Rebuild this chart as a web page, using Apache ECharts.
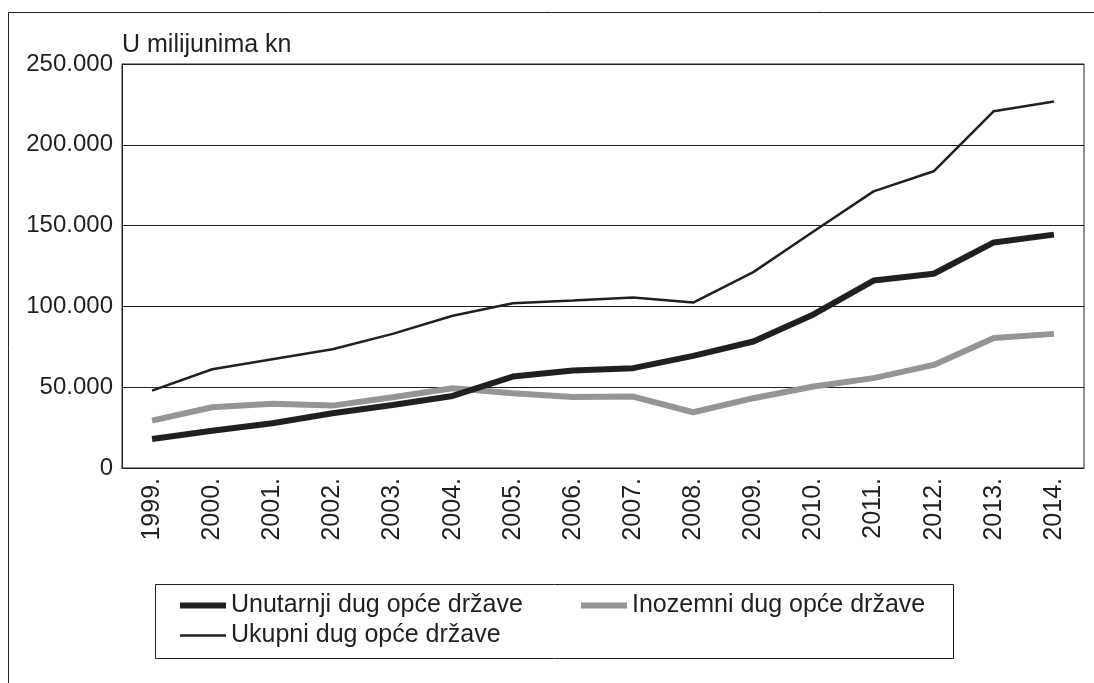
<!DOCTYPE html>
<html>
<head>
<meta charset="utf-8">
<script src="https://cdn.jsdelivr.net/npm/echarts@6/dist/echarts.min.js"></script>
<style>html,body{margin:0;padding:0;background:#fff}#c{width:1094px;height:683px}</style>
</head>
<body>
<div id="c"></div>
<script>
const years = ['1999.','2000.','2001.','2002.','2003.','2004.','2005.','2006.','2007.','2008.','2009.','2010.','2011.','2012.','2013.','2014.'];
const unutarnji = [18000,23100,27700,33900,39000,44600,56600,60400,61800,69400,78300,95000,116000,120200,139600,144400];
const inozemni = [29300,37600,39700,38600,43800,49400,46300,44000,44200,34500,43200,50400,55600,63800,80400,83000];
const ukupni = [47900,61100,67300,73500,83000,94200,102000,103700,105500,102400,121200,146400,171200,183600,220800,226800];
const names = ['Unutarnji dug opće države','Inozemni dug opće države','Ukupni dug opće države'];
const axisTitle = 'U milijunima kn';

const FONT = 'Liberation Sans, Arial, sans-serif';
const DARK = '#231f20';
const GRAY = '#939598';
const chart = echarts.init(document.getElementById('c'));
const legendBase = {orient:'horizontal', padding:0, itemWidth:46, itemHeight:14, itemGap:5, symbolKeepAspect:true,
  textStyle:{fontFamily:FONT, fontSize:25, color:DARK}};
chart.setOption({
  animation:false,
  backgroundColor:'#fff',
  graphic:[
    {type:'rect', shape:{x:8.5,y:12.5,width:1200,height:800}, style:{fill:'none', stroke:DARK, lineWidth:1}, silent:true},
    {type:'rect', shape:{x:155.5,y:584.5,width:798,height:74}, style:{fill:'none', stroke:DARK, lineWidth:1}, silent:true}
  ],
  grid:{left:122, right:10, top:64, bottom:215, show:true, borderColor:DARK, borderWidth:1, backgroundColor:'transparent'},
  legend:[
    Object.assign({}, legendBase, {left:180, top:593, data:[{name:names[0], icon:'path://M0,0H46V6H0Z', itemStyle:{color:DARK}}]}),
    Object.assign({}, legendBase, {left:581, top:593, data:[{name:names[1], icon:'path://M0,0H46V6H0Z', itemStyle:{color:GRAY}}]}),
    Object.assign({}, legendBase, {left:180, top:623, data:[{name:names[2], icon:'path://M0,0H46V2.5H0Z', itemStyle:{color:DARK}}]})
  ],
  xAxis:{type:'category', data:years, boundaryGap:true,
    axisLine:{lineStyle:{color:DARK, width:1}}, axisTick:{show:false},
    axisLabel:{rotate:90, margin:10, color:DARK, fontFamily:FONT, fontSize:25, interval:0}},
  yAxis:{type:'value', min:0, max:250000, interval:50000,
    name:axisTitle, nameLocation:'end', nameGap:6,
    nameTextStyle:{align:'left', color:DARK, fontFamily:FONT, fontSize:25, padding:[0,0,0,0]},
    axisLine:{show:true, lineStyle:{color:DARK, width:1}}, axisTick:{show:false},
    axisLabel:{margin:9, color:DARK, fontFamily:FONT, fontSize:24,
      formatter:v => v === 0 ? '0' : String(v).replace(/\B(?=(\d{3})+(?!\d))/g,'.')},
    splitLine:{lineStyle:{color:DARK, width:1}}},
  series:[
    {name:names[0], type:'line', data:unutarnji, symbol:'none', lineStyle:{color:DARK, width:6}, itemStyle:{color:DARK}, z:3},
    {name:names[1], type:'line', data:inozemni, symbol:'none', lineStyle:{color:GRAY, width:6}, itemStyle:{color:GRAY}, z:2},
    {name:names[2], type:'line', data:ukupni, symbol:'none', lineStyle:{color:DARK, width:2.5}, itemStyle:{color:DARK}, z:4}
  ]
});
</script>
</body>
</html>
